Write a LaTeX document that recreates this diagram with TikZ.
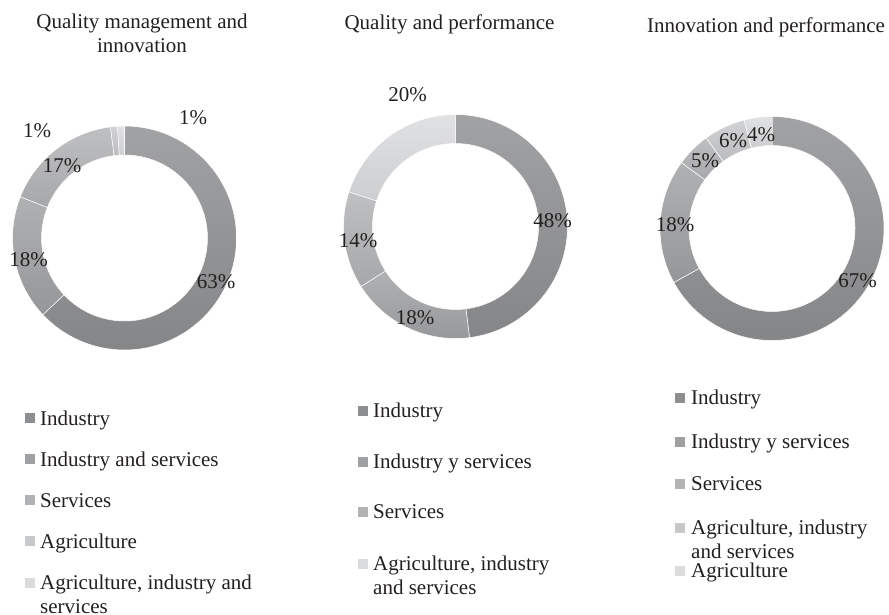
\documentclass[tikz,border=0pt]{standalone}
\usepackage{fontspec}
\setmainfont{Liberation Serif}
\definecolor{cA}{HTML}{8D8E90}
\definecolor{cB}{HTML}{9EA0A2}
\definecolor{cC}{HTML}{B1B2B4}
\definecolor{cD}{HTML}{C7C8CA}
\definecolor{cE}{HTML}{DADBDD}
\definecolor{txt}{HTML}{231F20}
\tikzset{
  seg/.style={top color=#1!82!white, bottom color=#1!94!black, draw=white, line width=0.5pt},
  lbl/.style={inner sep=0pt, text=txt, font=\fontsize{21}{24}\selectfont},
  ttl/.style={inner sep=0pt, text=txt, anchor=base, align=center, font=\fontsize{21}{24}\selectfont},
  leg/.style={inner sep=0pt, text=txt, anchor=base west, align=left, font=\fontsize{21}{24}\selectfont},
  lsq/.style={fill=#1, draw=none, minimum size=10pt, inner sep=0pt}
}
\newcommand\ringseg[5]{%
  \path[seg={#5}, shift={(#1,#2)}] (#3:112) arc[start angle=#3, end angle=#4, radius=112]
    -- (#4:83) arc[start angle=#4, end angle=#3, radius=83] -- cycle;}
\begin{document}
\begin{tikzpicture}[x=1pt,y=1pt]
\useasboundingbox (0,0) rectangle (889,-615);
% titles (base anchor = baseline of last line)
\node[ttl] (t1) at (142,-53) {Quality management and\\innovation};
\node[ttl] (t2) at (449.5,-29.5) {Quality and performance};
\node[ttl] (t3) at (766,-33) {Innovation and performance};
% chart 1
\ringseg{124.5}{-238}{90}{-136.8}{cA}
\ringseg{124.5}{-238}{-136.8}{-201.6}{cB}
\ringseg{124.5}{-238}{-201.6}{-262.8}{cC}
\ringseg{124.5}{-238}{-262.8}{-266.4}{cD}
\ringseg{124.5}{-238}{-266.4}{-270}{cE}
% chart 2
\ringseg{455.5}{-226.5}{90}{-82.8}{cA}
\ringseg{455.5}{-226.5}{-82.8}{-147.6}{cB}
\ringseg{455.5}{-226.5}{-147.6}{-198}{cC}
\ringseg{455.5}{-226.5}{-198}{-270}{cE}
% chart 3
\ringseg{772}{-228.5}{90}{-151.2}{cA}
\ringseg{772}{-228.5}{-151.2}{-216}{cB}
\ringseg{772}{-228.5}{-216}{-234}{cC}
\ringseg{772}{-228.5}{-234}{-255.6}{cD}
\ringseg{772}{-228.5}{-255.6}{-270}{cE}
% percentage labels
\node[lbl] (p1a) at (216,-282) {63\%};
\node[lbl] (p1b) at (28.5,-260) {18\%};
\node[lbl] (p1c) at (62,-166) {17\%};
\node[lbl] (p1d) at (37,-131) {1\%};
\node[lbl] (p1e) at (193,-118) {1\%};
\node[lbl] (p2a) at (552.5,-221) {48\%};
\node[lbl] (p2b) at (415,-318) {18\%};
\node[lbl] (p2c) at (358,-241) {14\%};
\node[lbl] (p2d) at (407.5,-95) {20\%};
\node[lbl] (p3a) at (857.5,-281) {67\%};
\node[lbl] (p3b) at (675,-225) {18\%};
\node[lbl] (p3c) at (705,-161) {5\%};
\node[lbl] (p3d) at (733,-141) {6\%};
\node[lbl] (p3e) at (761,-135) {4\%};
% legend 1
\node[lsq=cA] (s1a) at (30,-418) {};
\node[leg] (l1a) at (40,-425) {Industry};
\node[lsq=cB] (s1b) at (30,-459) {};
\node[leg] (l1b) at (40,-466) {Industry and services};
\node[lsq=cC] (s1c) at (30,-500) {};
\node[leg] (l1c) at (40,-507) {Services};
\node[lsq=cD] (s1d) at (30,-541) {};
\node[leg] (l1d) at (40,-548) {Agriculture};
\node[lsq=cE] (s1e) at (30,-583) {};
\node[leg] (l1e) at (40,-613) {Agriculture, industry and\\services};
% legend 2
\node[lsq=cA] (s2a) at (363,-411) {};
\node[leg] (l2a) at (373,-417) {Industry};
\node[lsq=cB] (s2b) at (363,-462) {};
\node[leg] (l2b) at (373,-468) {Industry y services};
\node[lsq=cC] (s2c) at (363,-512) {};
\node[leg] (l2c) at (373,-518) {Services};
\node[lsq=cE] (s2d) at (363,-564) {};
\node[leg] (l2d) at (373,-594) {Agriculture, industry\\and services};
% legend 3
\node[lsq=cA] (s3a) at (680,-398) {};
\node[leg] (l3a) at (691,-404) {Industry};
\node[lsq=cB] (s3b) at (680,-442) {};
\node[leg] (l3b) at (691,-448) {Industry y services};
\node[lsq=cC] (s3c) at (680,-484) {};
\node[leg] (l3c) at (691,-490) {Services};
\node[lsq=cD] (s3d) at (680,-528) {};
\node[leg] (l3d) at (691,-558) {Agriculture, industry\\and services};
\node[lsq=cE] (s3e) at (680,-571) {};
\node[leg] (l3e) at (691,-577) {Agriculture};
\end{tikzpicture}
\end{document}
